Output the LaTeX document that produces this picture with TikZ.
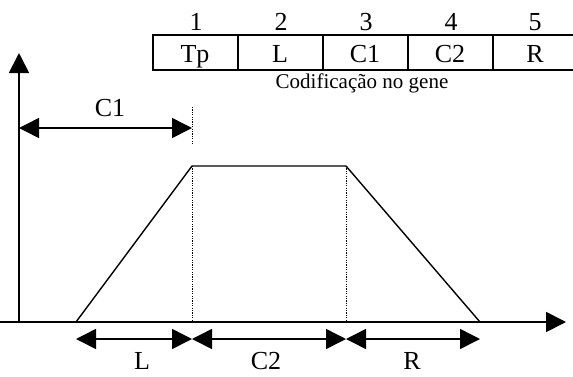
\documentclass[tikz,border=0pt]{standalone}
\usepackage{fontspec}
\setmainfont{Liberation Serif}
\usepackage{tikz}
\usetikzlibrary{arrows.meta, positioning}
\tikzset{
  %% ── Caixas ───────────────────────────────────────────────────────────
  celula/.style   = {draw=black, line width=2pt, minimum width=85pt,
                     minimum height=35pt, inner sep=0pt,
                     text height=20pt, text depth=1pt,
                     font=\fontsize{26}{28}\selectfont},
  %%
  %% ── Linhas e setas ───────────────────────────────────────────────────
  eixo/.style     = {-{Triangle[length=20pt, width=20pt]}, line width=1.8pt},
  cota/.style     = {{Triangle[length=20pt, width=20pt]}-{Triangle[length=20pt, width=20pt]},
                     line width=1.5pt},
  perfil/.style   = {line width=1.4pt},
  guia/.style     = {line width=1pt, dash pattern=on 1.2pt off 1.2pt},
  %%
  %% ── Texto ────────────────────────────────────────────────────────────
  rotulo/.style   = {font=\fontsize{26}{28}\selectfont, inner sep=0pt, anchor=base},
  legenda/.style  = {font=\fontsize{21}{23}\selectfont, inner sep=0pt, anchor=base},
}

\begin{document}
\begin{tikzpicture}[x=1pt, y=-1pt]
\useasboundingbox (0,0) rectangle (573,376);
\clip (0,0) rectangle (573,376);

%% gene
\node[celula] (tp) at (195, 52.5) {Tp};
\node[celula] (gl) at (280, 52.5) {L};
\node[celula] (gc1) at (365, 52.5) {C1};
\node[celula] (gc2) at (450, 52.5) {C2};
\node[celula] (gr) at (535, 52.5) {R};

\node[rotulo] (n1) at (196, 30) {1};
\node[rotulo] (n2) at (281, 30) {2};
\node[rotulo] (n3) at (366, 30) {3};
\node[rotulo] (n4) at (451, 30) {4};
\node[rotulo] (n5) at (535, 30) {5};

\node[legenda] (cod) at (362, 88) {Codificação no gene};

%% eixos
\coordinate (origem) at (19, 322);
\coordinate (inicio) at (0, 322);
\coordinate (topoY) at (19, 53);
\coordinate (fimX) at (566, 322);
\draw[eixo] (origem) -- (topoY);
\draw[eixo] (inicio) -- (fimX);

%% trapezio
\coordinate (baseE) at (76, 322);
\coordinate (topoE) at (192, 166);
\coordinate (topoD) at (346, 166);
\coordinate (baseD) at (480, 322);
\coordinate (peE) at (192, 322);
\coordinate (peD) at (346, 322);
\draw[perfil] (baseE) -- (topoE) -- (topoD) -- (baseD);
\draw[guia] (topoE) -- (peE);
\draw[guia] (topoD) -- (peD);

%% cotas
\coordinate (c1a) at (19, 128);
\coordinate (c1b) at (192, 128);
\coordinate (g1) at (192, 107);
\coordinate (g2) at (192, 145);
\draw[guia] (g1) -- (g2);
\draw[cota] (c1a) -- (c1b);
\node[rotulo] (lc1) at (110, 116) {C1};

\coordinate (ca) at (76, 339);
\coordinate (cb) at (192, 339);
\coordinate (cc) at (346, 339);
\coordinate (cd) at (480, 339);
\draw[cota] (ca) -- (cb);
\draw[cota] (cb) -- (cc);
\draw[cota] (cc) -- (cd);
\node[rotulo] (ll) at (142, 369) {L};
\node[rotulo] (lc2) at (266, 369) {C2};
\node[rotulo] (lr) at (412, 369) {R};

\end{tikzpicture}
\end{document}
